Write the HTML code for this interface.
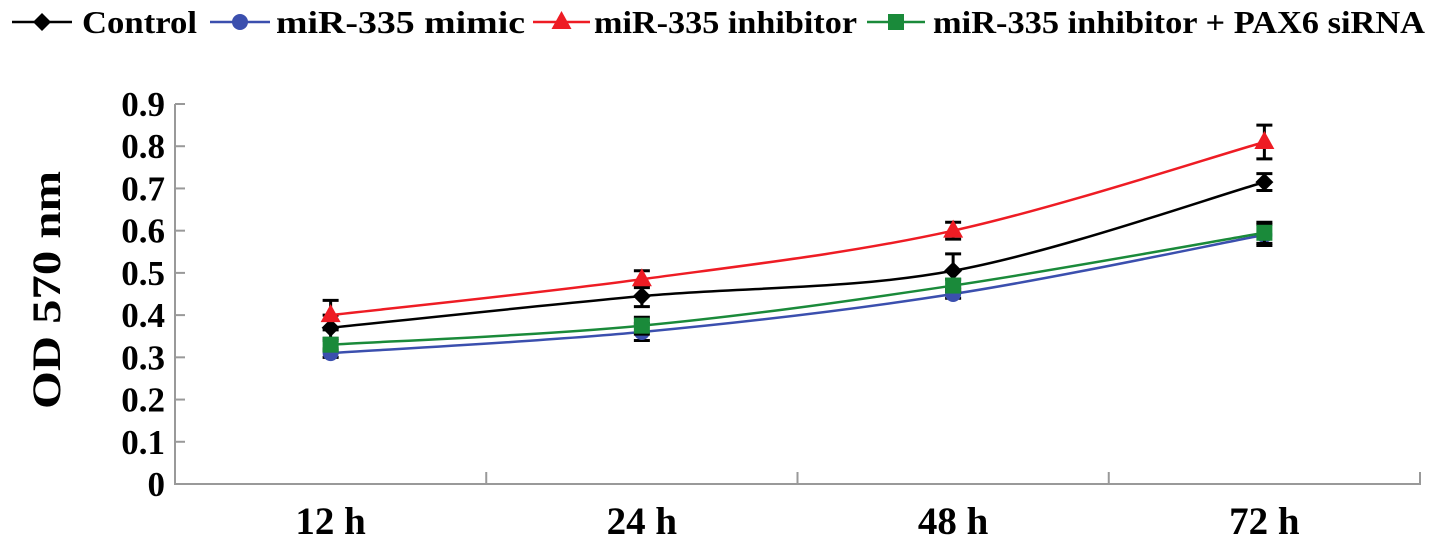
<!DOCTYPE html>
<html><head><meta charset="utf-8"><style>
body{margin:0;background:#fff;}
svg{display:block;font-family:"Liberation Serif",serif;font-weight:bold;}
</style></head><body>
<svg id="chart" width="1441" height="543">
<g id="legend"></g>
<g id="axes"></g>
<g id="plot"></g>
<text x="60" y="290" font-size="40" text-anchor="middle" textLength="238" lengthAdjust="spacingAndGlyphs" transform="rotate(-90 60 290)">OD 570 nm</text>
</svg>
<script>
const categories = ["12 h","24 h","48 h","72 h"];
const yTicks = [0,0.1,0.2,0.3,0.4,0.5,0.6,0.7,0.8,0.9];
const seriesNames = ["Control","miR-335 mimic","miR-335 inhibitor","miR-335 inhibitor + PAX6 siRNA"];
const controlVals = [0.37,0.445,0.505,0.715];
const mimicVals = [0.31,0.36,0.45,0.59];
const inhibitorVals = [0.40,0.485,0.60,0.81];
const paxVals = [0.33,0.375,0.47,0.595];
const controlErr = [0.03,0.025,0.04,0.02];
const mimicErr = [0.01,0.02,0.01,0.025];
const inhibitorErr = [0.035,0.02,0.02,0.04];
const paxErr = [0.015,0.02,0.015,0.025];

const NS="http://www.w3.org/2000/svg";
const X0=175,X1=1420,Y0=484,Y1=104,YMAX=0.9;
const bw=(X1-X0)/categories.length;
const xs=i=>X0+bw*(i+0.5);
const ys=v=>Y0-(v/YMAX)*(Y0-Y1);
function mk(tag,attrs,parent){const e=document.createElementNS(NS,tag);for(const k in attrs)e.setAttribute(k,attrs[k]);parent.appendChild(e);return e;}
const axes=document.getElementById('axes'),plot=document.getElementById('plot'),legend=document.getElementById('legend');
const ax=mk('path',{d:`M${X0} ${Y1} V${Y0} H${X1} V${Y0-12}`,fill:'none',stroke:'#999','stroke-width':2},axes);


yTicks.forEach(t=>{
  const y=ys(t);
  const l=mk('line',{x1:X0,x2:X0+10,y1:y,y2:y,stroke:'#999','stroke-width':2},axes);
  
  
  const tx=mk('text',{x:X0-10,y:y+12,'font-size':35,'text-anchor':'end'},axes);
  tx.textContent=t===0?"0":t.toFixed(1);
  
  
});
for(let i=1;i<categories.length;i++){
  const x=X0+bw*i;
  const l=mk('line',{x1:x,x2:x,y1:Y0,y2:Y0-12,stroke:'#999','stroke-width':2},axes);
  
  
}
categories.forEach((c,i)=>{
  const t=mk('text',{x:xs(i),y:534,'font-size':39,'text-anchor':'middle'},axes);
  t.textContent=c;
  
  
});
const series=[
 {vals:controlVals,err:controlErr,color:'#000',m:'diamond',name:'control'},
 {vals:mimicVals,err:mimicErr,color:'#3b4fae',m:'circle',name:'mimic'},
 {vals:inhibitorVals,err:inhibitorErr,color:'#ee1c24',m:'triangle',name:'inhibitor'},
 {vals:paxVals,err:paxErr,color:'#1a8a3a',m:'square',name:'inhibitor-pax6'}
];
function smooth(pts){
  let d=`M${pts[0][0]} ${pts[0][1]}`;
  for(let i=0;i<pts.length-1;i++){
    const p0=pts[Math.max(0,i-1)],p1=pts[i],p2=pts[i+1],p3=pts[Math.min(pts.length-1,i+2)];
    const k=1/6;
    d+=` C${p1[0]+(p2[0]-p0[0])*k} ${p1[1]+(p2[1]-p0[1])*k} ${p2[0]-(p3[0]-p1[0])*k} ${p2[1]-(p3[1]-p1[1])*k} ${p2[0]} ${p2[1]}`;
  }
  return d;
}
function marker(type,x,y,color,parent){
  let e;
  if(type==='diamond')e=mk('path',{d:`M${x} ${y-9} L${x+9} ${y} L${x} ${y+9} L${x-9} ${y}Z`,fill:color},parent);
  else if(type==='circle')e=mk('circle',{cx:x,cy:y,r:8,fill:color},parent);
  else if(type==='triangle')e=mk('path',{d:`M${x} ${y-11} L${x+10} ${y+7} L${x-10} ${y+7}Z`,fill:color},parent);
  else e=mk('rect',{x:x-8,y:y-8,width:16,height:16,fill:color},parent);
  return e;
}
series.forEach(s=>{
  const g=mk('g',{},plot);
  
  
  s.vals.forEach((v,i)=>{
    const x=xs(i),a=ys(v+s.err[i]),b=ys(v-s.err[i]);
    const e=mk('path',{d:`M${x} ${a}V${b}M${x-8} ${a}H${x+8}M${x-8} ${b}H${x+8}`,stroke:'#000','stroke-width':3,fill:'none'},g);
    
    
  });
  const p=mk('path',{d:smooth(s.vals.map((v,i)=>[xs(i),ys(v)])),fill:'none',stroke:s.color,'stroke-width':2.5},g);
  
  
  s.vals.forEach((v,i)=>{
    const m=marker(s.m,xs(i),ys(v),s.color,g);
    
    
  });
});
const legX=[[12,72,82,115],[210,270,276,249],[533,590,594,263],[867,925,933,492]];
series.forEach((s,i)=>{
  const g=mk('g',{},legend);
  
  
  mk('line',{x1:legX[i][0],x2:legX[i][1],y1:22,y2:22,stroke:s.color,'stroke-width':2.5},g);
  marker(s.m,(legX[i][0]+legX[i][1])/2,22,s.color,g);
  const t=mk('text',{x:legX[i][2],y:33,'font-size':32,textLength:legX[i][3],lengthAdjust:'spacingAndGlyphs'},g);
  t.textContent=seriesNames[i];
});
</script>
</body></html>
